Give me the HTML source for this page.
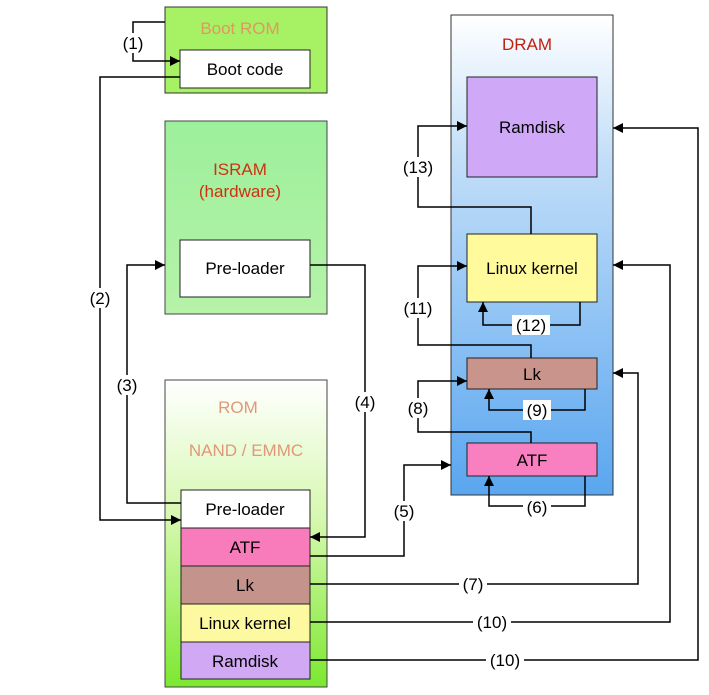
<!DOCTYPE html>
<html><head><style>html,body{margin:0;padding:0;background:#fff}</style></head><body>
<svg width="709" height="690" viewBox="0 0 709 690" xmlns="http://www.w3.org/2000/svg" font-family="Liberation Sans, sans-serif">
<defs>
<marker id="a" viewBox="0 0 10 10" refX="10" refY="5" markerWidth="10" markerHeight="10" markerUnits="userSpaceOnUse" orient="auto"><path d="M0,0L10,5L0,10z" fill="#000"/></marker>
<linearGradient id="isr" x1="0" y1="0" x2="0" y2="1"><stop offset="0" stop-color="#9cf09c"/><stop offset="1" stop-color="#b6f2a8"/></linearGradient>
<linearGradient id="rom" x1="0" y1="0" x2="0" y2="1"><stop offset="0" stop-color="#ffffff"/><stop offset="0.45" stop-color="#d6f8b0"/><stop offset="1" stop-color="#7ce830"/></linearGradient>
<linearGradient id="dram" x1="0" y1="0" x2="0" y2="1"><stop offset="0" stop-color="#ffffff"/><stop offset="0.3" stop-color="#c2def8"/><stop offset="1" stop-color="#5aa6f0"/></linearGradient>
</defs>
<rect x="165" y="7" width="162" height="86" fill="#a6f264" stroke="#333"/>
<text x="240" y="34" font-size="17" fill="#e09860" text-anchor="middle">Boot ROM</text>
<rect x="180" y="50" width="130" height="38" fill="#fff" stroke="#222"/>
<text x="245" y="75" font-size="17" text-anchor="middle">Boot code</text>

<rect x="165" y="121" width="162" height="193" fill="url(#isr)" stroke="#444"/>
<text x="240" y="175" font-size="17" fill="#d03010" text-anchor="middle">ISRAM</text>
<text x="240" y="197" font-size="17" fill="#d03010" text-anchor="middle">(hardware)</text>
<rect x="180" y="240" width="130" height="57" fill="#fff" stroke="#222"/>
<text x="245" y="274" font-size="17" text-anchor="middle">Pre-loader</text>

<rect x="165" y="380" width="162" height="307" fill="url(#rom)" stroke="#444"/>
<text x="238" y="413" font-size="17" fill="#e09878" text-anchor="middle">ROM</text>
<text x="246" y="456" font-size="17" fill="#e09878" text-anchor="middle">NAND / EMMC</text>
<rect x="181" y="490" width="129" height="38" fill="#fff" stroke="#222"/>
<rect x="181" y="528" width="129" height="38" fill="#f87cbc" stroke="#222"/>
<rect x="181" y="566" width="129" height="38" fill="#c4948c" stroke="#222"/>
<rect x="181" y="604" width="129" height="38" fill="#fdf9a0" stroke="#222"/>
<rect x="181" y="642" width="129" height="37" fill="#d0a8f4" stroke="#222"/>
<g font-size="17" text-anchor="middle">
<text x="245" y="515">Pre-loader</text>
<text x="245" y="553">ATF</text>
<text x="245" y="591">Lk</text>
<text x="245" y="629">Linux kernel</text>
<text x="245" y="667">Ramdisk</text>
</g>

<rect x="451" y="15" width="162" height="480" fill="url(#dram)" stroke="#333"/>
<text x="527" y="50" font-size="17" fill="#c02010" text-anchor="middle">DRAM</text>
<rect x="467" y="77" width="130" height="100" fill="#d0a8f8" stroke="#222"/>
<text x="532" y="133" font-size="17" text-anchor="middle">Ramdisk</text>
<rect x="467" y="234" width="130" height="68" fill="#fffb9c" stroke="#222"/>
<text x="532" y="274" font-size="17" text-anchor="middle">Linux kernel</text>
<rect x="467" y="358" width="130" height="31" fill="#c8948c" stroke="#222"/>
<text x="532" y="380" font-size="17" text-anchor="middle">Lk</text>
<rect x="467" y="443" width="130" height="33" fill="#f880c0" stroke="#222"/>
<text x="532" y="466" font-size="17" text-anchor="middle">ATF</text>

<g fill="none" stroke="#000" stroke-width="1.5">
<path d="M165,22H133V61H180" marker-end="url(#a)"/>
<path d="M180,77H100V520H181" marker-end="url(#a)"/>
<path d="M181,503H127V265H165" marker-end="url(#a)"/>
<path d="M310,265H365V537H310" marker-end="url(#a)"/>
<path d="M310,556H404V465H451" marker-end="url(#a)"/>
<path d="M585,476V506H489V476" marker-end="url(#a)"/>
<path d="M310,584H638V373H613" marker-end="url(#a)"/>
<path d="M531,443V432H418V381H467" marker-end="url(#a)"/>
<path d="M585,389V410H489V389" marker-end="url(#a)"/>
<path d="M310,622H670V265H613" marker-end="url(#a)"/>
<path d="M310,660H698V128H613" marker-end="url(#a)"/>
<path d="M531,358V345H418V266H467" marker-end="url(#a)"/>
<path d="M580,302V325H483V302" marker-end="url(#a)"/>
<path d="M531,234V207H418V126H467" marker-end="url(#a)"/>
</g>
<g font-size="17" text-anchor="middle">
<rect x="119" y="33" width="28" height="20" fill="#fff"/><text x="133" y="49">(1)</text>
<rect x="86" y="288" width="28" height="20" fill="#fff"/><text x="100" y="304">(2)</text>
<rect x="113" y="375" width="28" height="20" fill="#fff"/><text x="127" y="391">(3)</text>
<rect x="351" y="392" width="28" height="20" fill="#fff"/><text x="365" y="408">(4)</text>
<rect x="390" y="501" width="28" height="20" fill="#fff"/><text x="404" y="517">(5)</text>
<rect x="523" y="497" width="28" height="20" fill="#fff"/><text x="537" y="513">(6)</text>
<rect x="459" y="574" width="28" height="20" fill="#fff"/><text x="473" y="590">(7)</text>
<rect x="404" y="398" width="28" height="20" fill="#fff"/><text x="418" y="414">(8)</text>
<rect x="523" y="400" width="28" height="20" fill="#fff"/><text x="537" y="416">(9)</text>
<rect x="473" y="612" width="38" height="20" fill="#fff"/><text x="492" y="628">(10)</text>
<rect x="486" y="650" width="38" height="20" fill="#fff"/><text x="505" y="666">(10)</text>
<rect x="399" y="298" width="38" height="20" fill="#fff"/><text x="418" y="314">(11)</text>
<rect x="512" y="315" width="38" height="20" fill="#fff"/><text x="531" y="331">(12)</text>
<rect x="399" y="157" width="38" height="20" fill="#fff"/><text x="418" y="173">(13)</text>
</g>
</svg>
</body></html>
